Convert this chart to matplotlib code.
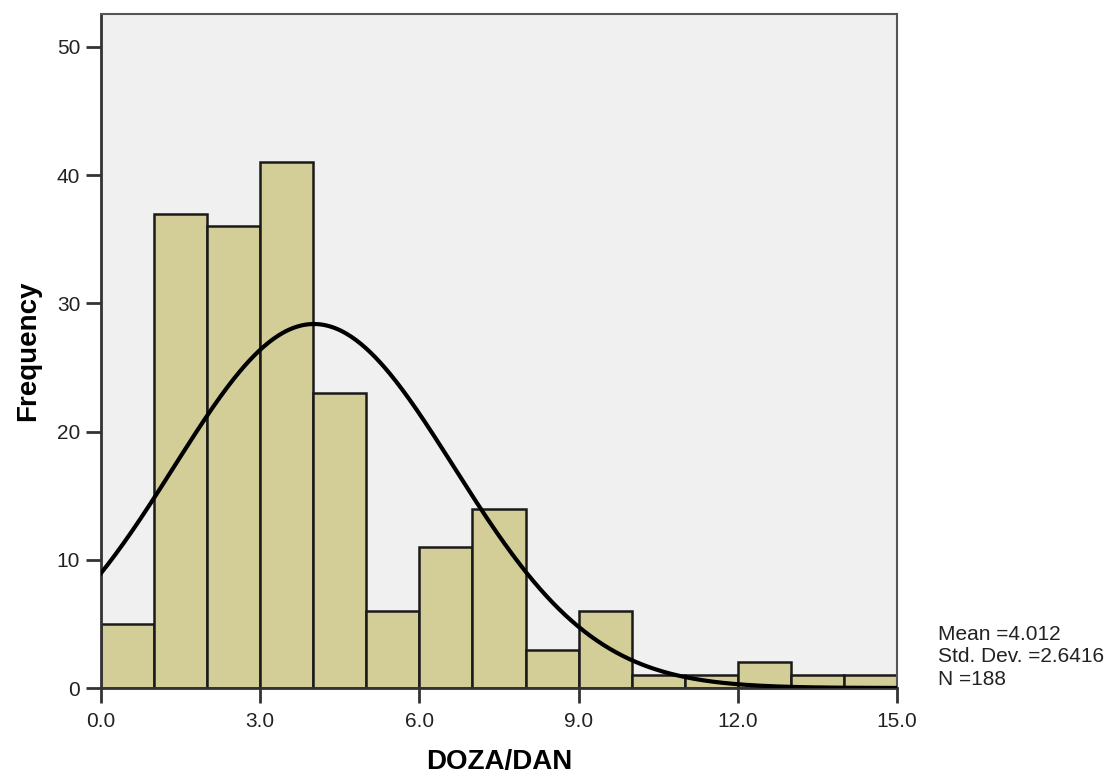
import numpy as np
import matplotlib
matplotlib.use("Agg")
import matplotlib.pyplot as plt

plt.rcParams['font.family'] = ['Liberation Sans', 'DejaVu Sans']

bin_edges = list(range(0, 16))
counts = [5, 37, 36, 41, 23, 6, 11, 14, 3, 6, 1, 1, 2, 1, 1]
mean = 4.012
std = 2.6416
n = 188
xticks = [0.0, 3.0, 6.0, 9.0, 12.0, 15.0]
yticks = [0, 10, 20, 30, 40, 50]

fig = plt.figure(figsize=(11.09, 7.75), dpi=100)
ax = fig.add_axes([101/1109, 1-688/775, (897-101)/1109, (688-14)/775])
ax.set_facecolor('#f0f0f0')

left = np.array(bin_edges[:-1])
widths = np.diff(bin_edges)
ax.bar(left, counts, width=widths, align='edge', color='#d3ce97',
       edgecolor='#1a1a1a', linewidth=1.8, zorder=2)

xs = np.linspace(0, 15, 500)
pdf = n * 1.0 * np.exp(-0.5*((xs-mean)/std)**2) / (std*np.sqrt(2*np.pi))
ax.plot(xs, pdf, color='black', linewidth=3, zorder=3, clip_on=True)

ax.set_xlim(0, 15)
ax.set_ylim(0, 50 * 674 / 641)
ax.set_xticks(xticks)
ax.set_xticklabels([f"{v:.1f}" for v in xticks])
ax.set_yticks(yticks)
ax.tick_params(axis='both', direction='out', length=11, width=2, labelsize=15,
               color='#333333', labelcolor='#222222')
ax.tick_params(axis='x', pad=6)
ax.tick_params(axis='y', pad=4)
for s in ax.spines.values():
    s.set_color('#555555')
    s.set_linewidth(1.5)
ax.spines['left'].set_linewidth(2)
ax.spines['bottom'].set_linewidth(2)
ax.spines['left'].set_color('#333333')
ax.spines['bottom'].set_color('#333333')

ax.set_xlabel('DOZA/DAN', fontsize=20, fontweight='bold')
ax.set_ylabel('Frequency', fontsize=20, fontweight='bold')
ax.xaxis.set_label_coords(0.5, -(762 - 688) / 674, transform=ax.transAxes)
ax.yaxis.set_label_coords(-(101 - 28) / 796, 0.5, transform=ax.transAxes)
ax.xaxis.label.set_va('center')
ax.yaxis.label.set_va('center')

fig.text(938/1109, 1-657/775, f"Mean ={mean}\nStd. Dev. ={std}\nN ={n}",
         fontsize=15, va='center', ha='left', linespacing=1.24, color='#222222')

fig.savefig('out.png', dpi=100)
